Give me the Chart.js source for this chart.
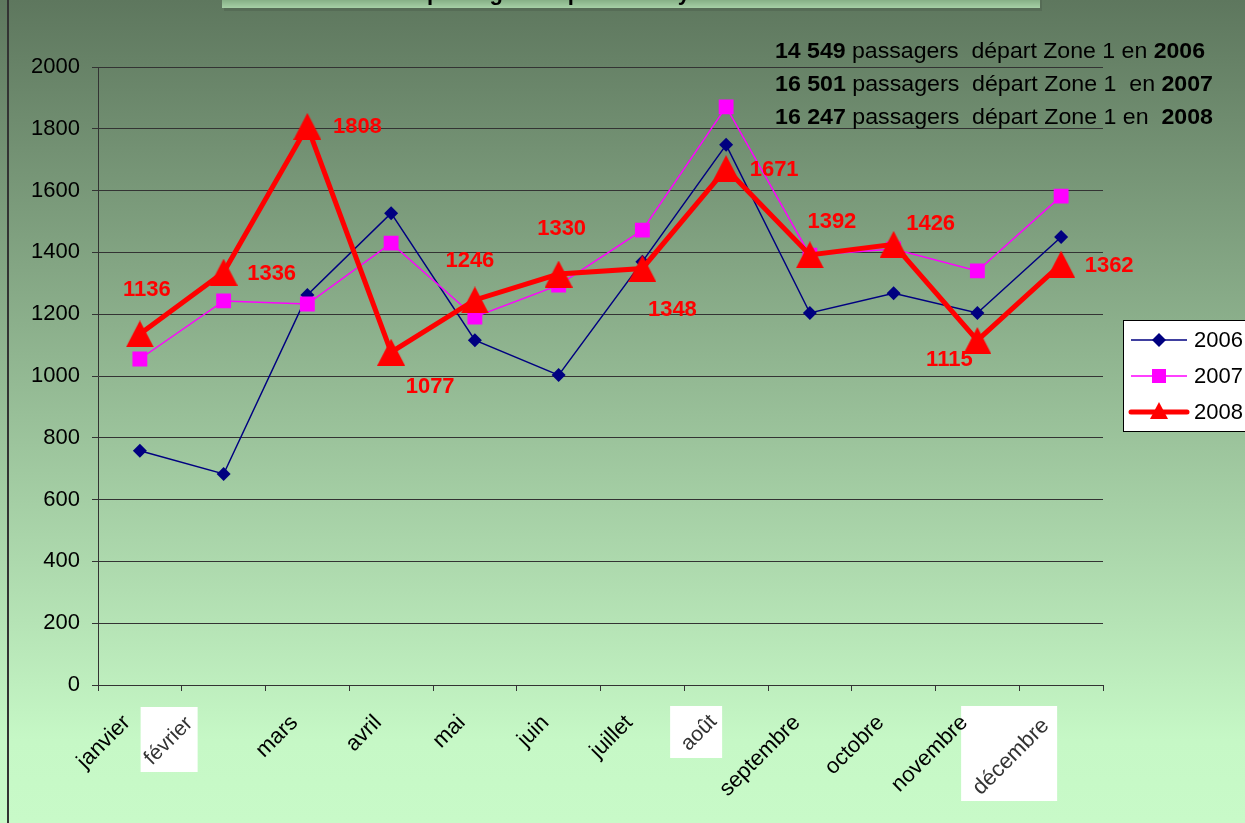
<!DOCTYPE html>
<html lang="fr">
<head>
<meta charset="utf-8">
<title>Passagers départ Zone 1</title>
<script src="https://cdn.jsdelivr.net/npm/chart.js@4/dist/chart.umd.min.js"></script>
<style>
  html, body { margin: 0; padding: 0; background: #c8fac8; }
  #wrap { width: 1245px; height: 823px; }
</style>
</head>
<body>
<div id="wrap"><canvas id="chart" width="1245" height="823"></canvas></div>
<script>
(function () {
  'use strict';

  // données
  const months = ['janvier', 'février', 'mars', 'avril', 'mai', 'juin', 'juillet', 'août', 'septembre', 'octobre', 'novembre', 'décembre'];
  const years = ['2006', '2007', '2008'];
  const pax2006 = [758, 683, 1262, 1527, 1116, 1003, 1370, 1748, 1204, 1268, 1204, 1450];
  const pax2007 = [1055, 1243, 1233, 1430, 1191, 1294, 1472, 1871, 1391, 1411, 1340, 1582];
  const pax2008 = [1136, 1336, 1808, 1077, 1246, 1330, 1348, 1671, 1392, 1426, 1115, 1362];
  const yTicks = [0, 200, 400, 600, 800, 1000, 1200, 1400, 1600, 1800, 2000];
  const totals = ['14 549', '16 501', '16 247'];
  const totalsText = [' passagers  départ Zone 1 en ', ' passagers  départ Zone 1  en ', ' passagers  départ Zone 1 en  '];

  const FONT = 'Arial, "Liberation Sans", sans-serif';
  const NAVY = '#000080';
  const MAGENTA = '#ff00ff';
  const RED = '#ff0000';

  // décalage des étiquettes 2008 par rapport au point (px)
  const labelShift = [[7, -46], [48, 0], [50, -1], [39, 33], [-5, -41], [3, -47], [30, 40], [48, -1], [22, -35], [37, -22], [-28, 18], [48, 0]];
  // cases blanches derrière certains mois (mal rendus dans l'original) : [dx, y, w, h, texte dx, texte y, taille]
  const patches = {
    1: [-83, 707, 57, 65, -55, 741, 21],
    7: [-56, 706, 52, 52, -27, 733, 21],
    11: [-100, 706, 96, 95, -50, 757, 22],
  };

  function triangleImage(w, h, color) {
    const c = document.createElement('canvas');
    c.width = w;
    c.height = h;
    const g = c.getContext('2d');
    g.fillStyle = color;
    g.beginPath();
    g.moveTo(w / 2, 0);
    g.lineTo(w, h);
    g.lineTo(0, h);
    g.closePath();
    g.fill();
    return c;
  }

  const backdrop = {
    id: 'backdrop',
    beforeDraw(chart) {
      const { ctx, width, height } = chart;
      const xs = chart.scales.x;
      ctx.save();
      const g = ctx.createLinearGradient(0, 0, 0, height);
      g.addColorStop(0, '#5e775e');
      g.addColorStop(0.9, '#c6f8c6');
      g.addColorStop(1, '#c8fac8');
      ctx.fillStyle = g;
      ctx.fillRect(0, 0, width, height);

      // bandeau du titre, presque hors cadre
      ctx.fillStyle = '#566c56';
      ctx.fillRect(224, 0, 818, 11);
      const tg = ctx.createLinearGradient(0, 0, 0, 8);
      tg.addColorStop(0, '#86b086');
      tg.addColorStop(1, '#a6d0a6');
      ctx.fillStyle = tg;
      ctx.fillRect(222, 0, 818, 8);
      ctx.fillStyle = '#000';
      ctx.font = 'bold 22px ' + FONT;
      ctx.textBaseline = 'alphabetic';
      ctx.textAlign = 'left';
      ctx.fillText('passagers départ de Mayotte', 427, 0);

      // trait gauche du cadre
      ctx.fillStyle = '#333';
      ctx.fillRect(7, 0, 2, height);

      Object.keys(patches).forEach((k) => {
        const p = patches[k];
        const cx = xs.getPixelForValue(+k);
        ctx.fillStyle = '#fff';
        ctx.fillRect(cx + p[0], p[1], p[2], p[3]);
        ctx.save();
        ctx.translate(cx + p[4], p[5]);
        ctx.rotate(-Math.PI / 4);
        ctx.fillStyle = '#333';
        ctx.font = p[6] + 'px ' + FONT;
        ctx.textAlign = 'center';
        ctx.textBaseline = 'middle';
        ctx.fillText(months[+k], 0, 0);
        ctx.restore();
      });
      ctx.restore();
    },
  };

  const annotations = {
    id: 'annotations',
    afterDatasetsDraw(chart) {
      const { ctx } = chart;
      const xs = chart.scales.x;
      const ys = chart.scales.y;
      ctx.save();
      ctx.fillStyle = RED;
      ctx.font = 'bold 22px ' + FONT;
      ctx.textAlign = 'center';
      ctx.textBaseline = 'alphabetic';
      pax2008.forEach((v, i) => {
        const x = xs.getPixelForValue(i) + labelShift[i][0];
        const y = ys.getPixelForValue(v) + labelShift[i][1];
        ctx.fillText(String(v), x, y + 8);
      });
      ctx.restore();
    },
    afterDraw(chart) {
      const { ctx } = chart;
      ctx.save();
      ctx.textBaseline = 'alphabetic';
      ctx.textAlign = 'left';
      ctx.fillStyle = '#000';
      const rightEdge = [1205, 1213, 1213];
      totals.forEach((t, i) => {
        const parts = [[t, 'bold'], [totalsText[i], 'normal'], [years[i], 'bold']];
        let total = 0;
        parts.forEach((p) => {
          ctx.font = p[1] + ' 22px ' + FONT;
          total += ctx.measureText(p[0]).width;
        });
        const sx = (rightEdge[i] - 775) / total;
        const baseY = 58 + i * 33;
        ctx.save();
        ctx.translate(775, baseY);
        ctx.scale(sx, 1);
        let x = 0;
        parts.forEach((p) => {
          ctx.font = p[1] + ' 22px ' + FONT;
          ctx.fillText(p[0], x, 0);
          x += ctx.measureText(p[0]).width;
        });
        ctx.restore();
      });

      // légende
      const lx = 1123, ly = 320;
      ctx.fillStyle = '#fff';
      ctx.fillRect(lx, ly, 140, 111);
      ctx.strokeStyle = '#000';
      ctx.lineWidth = 1;
      ctx.strokeRect(lx + 0.5, ly + 0.5, 140, 111);
      const rows = [
        { c: NAVY, w: 1.5 },
        { c: MAGENTA, w: 1.5 },
        { c: RED, w: 5 },
      ];
      rows.forEach((r, i) => {
        const cy = 340 + i * 36;
        ctx.strokeStyle = r.c;
        ctx.lineWidth = r.w;
        ctx.lineCap = i === 2 ? 'round' : 'butt';
        ctx.beginPath();
        ctx.moveTo(1131, cy);
        ctx.lineTo(1187, cy);
        ctx.stroke();
        ctx.fillStyle = r.c;
        ctx.beginPath();
        if (i === 0) {
          ctx.moveTo(1159, cy - 7);
          ctx.lineTo(1166, cy);
          ctx.lineTo(1159, cy + 7);
          ctx.lineTo(1152, cy);
        } else if (i === 1) {
          ctx.rect(1152, cy - 7, 14, 14);
        } else {
          ctx.moveTo(1159, cy - 10);
          ctx.lineTo(1168, cy + 7);
          ctx.lineTo(1150, cy + 7);
        }
        ctx.closePath();
        ctx.fill();
        ctx.fillStyle = '#000';
        ctx.font = '22px ' + FONT;
        ctx.textBaseline = 'middle';
        ctx.fillText(years[i], 1194, cy + 1);
      });
      ctx.restore();
    },
  };

  const odd = [1, 7, 11];

  new Chart(document.getElementById('chart'), {
    type: 'line',
    data: {
      labels: months,
      datasets: [
        {
          label: years[0],
          data: pax2006,
          order: 3,
          borderColor: NAVY,
          borderWidth: 1.5,
          pointStyle: 'rectRot',
          pointRadius: 7,
          pointBackgroundColor: NAVY,
          pointBorderWidth: 0,
          tension: 0,
        },
        {
          label: years[1],
          data: pax2007,
          order: 2,
          borderColor: MAGENTA,
          borderWidth: 1.5,
          pointStyle: 'rect',
          pointRadius: 10.5,
          pointBackgroundColor: MAGENTA,
          pointBorderWidth: 0,
          tension: 0,
        },
        {
          label: years[2],
          data: pax2008,
          order: 1,
          borderColor: RED,
          borderWidth: 5,
          pointStyle: triangleImage(28, 27, RED),
          pointRadius: 14,
          tension: 0,
        },
      ],
    },
    options: {
      responsive: false,
      animation: false,
      layout: { padding: { top: 67, right: 142, bottom: 0, left: 0 } },
      plugins: { legend: { display: false }, tooltip: { enabled: false } },
      scales: {
        x: {
          offset: true,
          afterFit: (s) => { s.height = 138; },
          grid: { offset: true, drawOnChartArea: false, drawTicks: true, tickLength: 6, color: '#333' },
          border: { color: '#333', width: 1 },
          ticks: {
            autoSkip: false,
            maxRotation: 45,
            minRotation: 45,
            labelOffset: -13,
            padding: 19,
            color: (c) => (odd.includes(c.index) ? 'rgba(0,0,0,0)' : '#000'),
            font: { family: FONT, size: 22 },
          },
        },
        y: {
          min: 0,
          max: 2000,
          afterFit: (s) => { s.width = 98; },
          afterBuildTicks: (s) => { s.ticks = yTicks.map((v) => ({ value: v })); },
          grid: { color: '#333', lineWidth: 1, tickLength: 6 },
          border: { color: '#333', width: 1 },
          ticks: { color: '#000', padding: 12, font: { family: FONT, size: 22 }, callback: (v) => String(v) },
        },
      },
    },
    plugins: [backdrop, annotations],
  });
})();
</script>
</body>
</html>
